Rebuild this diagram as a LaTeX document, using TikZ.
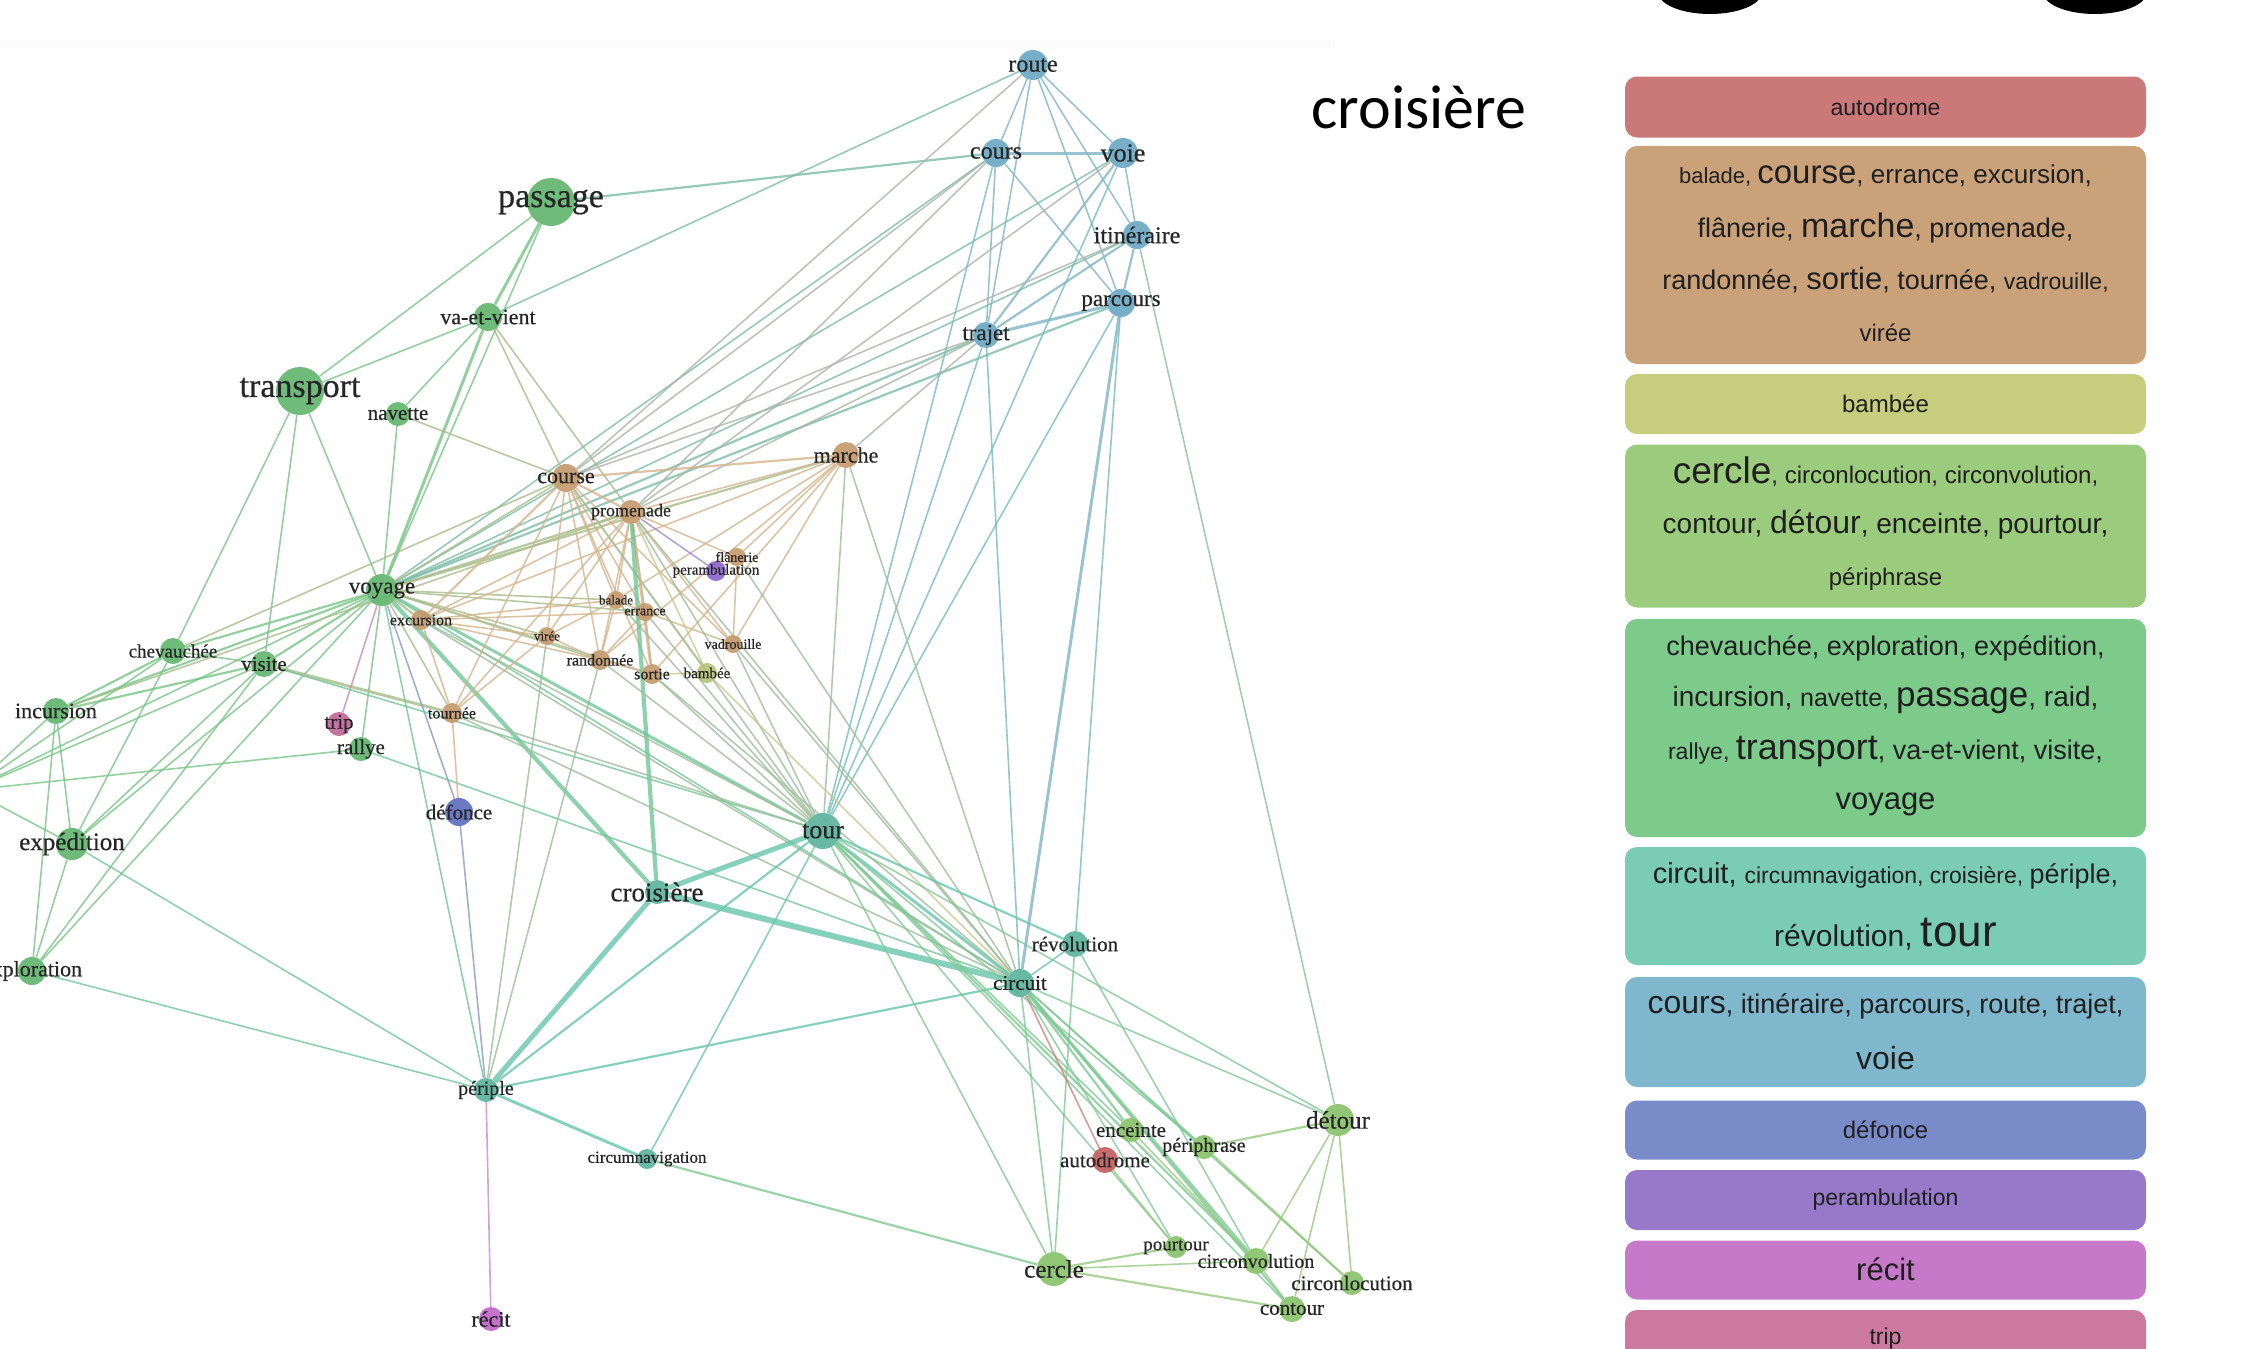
\documentclass[tikz,border=0pt]{standalone}
\usepackage{fontspec}
\setmainfont{Liberation Sans}
\newfontfamily\gfont[FakeBold=0.5]{Liberation Serif}
\newfontfamily\tfont{Carlito}
\pgfdeclarelayer{bg}
\pgfdeclarelayer{fg}
\pgfsetlayers{bg,main,fg}
\newcommand\fs[1]{\fontsize{#1}{#1}\selectfont}
% node colours
\definecolor{cG}{HTML}{62B56F}
\definecolor{cT}{HTML}{5DB39C}
\definecolor{cU}{HTML}{6AA8C2}
\definecolor{cB}{HTML}{C49A6E}
\definecolor{cL}{HTML}{8AC26C}
\definecolor{cR}{HTML}{C45E5E}
\definecolor{cD}{HTML}{5F6EC0}
\definecolor{cP}{HTML}{8A66CC}
\definecolor{cK}{HTML}{C066C8}
\definecolor{cM}{HTML}{C0689A}
\definecolor{cY}{HTML}{B6C27A}
% edge colours
\definecolor{eG}{HTML}{78C486}
\definecolor{eB}{HTML}{D3B48C}
\definecolor{eT}{HTML}{68C6AA}
\definecolor{eU}{HTML}{80B4C6}
\definecolor{eL}{HTML}{96CA7E}
\colorlet{eGB}{eG!50!eB}
\colorlet{eGU}{eG!50!eU}
\colorlet{eBU}{eB!50!eU}
\colorlet{eTU}{eT!50!eU}
\colorlet{eLU}{eL!50!eU}
\colorlet{eGT}{eG!50!eT}
\colorlet{eBT}{eB!50!eT}
\colorlet{eLT}{eL!50!eT}
\definecolor{eM}{HTML}{C889B0}
\definecolor{eD}{HTML}{8A98C8}
\definecolor{eP}{HTML}{A08AD6}
\definecolor{eR}{HTML}{D08080}
\definecolor{eK}{HTML}{C68AD0}
\definecolor{eY}{HTML}{C8C890}
% legend colours
\definecolor{lA}{HTML}{CB7878}
\definecolor{lB}{HTML}{C9A27A}
\definecolor{lY}{HTML}{C6CD7C}
\definecolor{lL}{HTML}{9BCB7C}
\definecolor{lG}{HTML}{7DCB8B}
\definecolor{lT}{HTML}{7ACDB3}
\definecolor{lU}{HTML}{7FB8CD}
\definecolor{lD}{HTML}{7A8BC9}
\definecolor{lP}{HTML}{9679C8}
\definecolor{lK}{HTML}{C579C8}
\definecolor{lM}{HTML}{CB799F}
\tikzset{
  gnode/.style={circle,inner sep=0pt,draw=none,opacity=.92},
  glab/.style={inner sep=0pt,text=black!85},
  edge/.style={line width=1.6pt,opacity=.8},
  w2/.style={line width=2.2pt},
  w3/.style={line width=3pt},
  w4/.style={line width=4.2pt},
  w5/.style={line width=5pt},
  w6/.style={line width=6pt},
  lbox/.style={rectangle,rounded corners=12pt,minimum width=521pt,inner sep=0pt,draw=none},
  ltxt/.style={inner sep=0pt,text=black!88}
}
\newcommand\GN[7]{%
  \node[gnode,fill=#5,minimum size=#4pt] (#1) at (#2,#3) {};
  \begin{pgfonlayer}{fg}\node[glab,font={\gfont\fs{#6}}] (#1-l) at (#2,#3) {#7};\end{pgfonlayer}}
\newcommand\E[3][]{\draw[edge,#1] (#2) -- (#3);}
\begin{document}
\begin{tikzpicture}[x=1pt,y=-1pt]
\useasboundingbox (0,0) rectangle (2263,1349);
\fill[black!1.5] (0,40) rectangle (1335,48);
% black shapes cut at top
\fill[black] (1710,-8) ellipse [x radius=52pt, y radius=22pt];
\fill[black] (2095,-8) ellipse [x radius=52pt, y radius=22pt];
% title
\node[font={\tfont\fs{62}},inner sep=0pt] (title) at (1419,107) {croisière};
% ---------------- graph nodes
\coordinate (raid) at (-30,790);
\GN{route}{1033}{65}{30}{cU}{24}{route}
\GN{cours}{996}{153}{28}{cU}{24}{cours}
\GN{voie}{1123}{153}{30}{cU}{26}{voie}
\GN{itineraire}{1137}{235}{28}{cU}{24}{itinéraire}
\GN{parcours}{1121}{303}{28}{cU}{23}{parcours}
\GN{trajet}{986}{335}{26}{cU}{23}{trajet}
\GN{passage}{551}{202}{48}{cG}{34}{passage}
\GN{vaetvient}{488}{317}{28}{cG}{22}{va-et-vient}
\GN{transport}{300}{391}{48}{cG}{34}{transport}
\GN{navette}{398}{414}{24}{cG}{21}{navette}
\GN{course}{566}{478}{28}{cB}{22}{course}
\GN{marche}{846}{455}{26}{cB}{22}{marche}
\GN{promenade}{631}{512}{24}{cB}{18}{promenade}
\GN{flanerie}{737}{557}{18}{cB}{14}{flânerie}
\GN{perambulation}{716}{571}{20}{cP}{15}{perambulation}
\GN{voyage}{382}{590}{32}{cG}{23}{voyage}
\GN{excursion}{421}{620}{20}{cB}{16}{excursion}
\GN{balade}{616}{600}{18}{cB}{13}{balade}
\GN{errance}{645}{612}{18}{cB}{14}{errance}
\GN{viree}{547}{636}{18}{cB}{13}{virée}
\GN{randonnee}{600}{660}{20}{cB}{16}{randonnée}
\GN{sortie}{652}{674}{20}{cB}{16}{sortie}
\GN{bambee}{707}{673}{20}{cY}{15}{bambée}
\GN{vadrouille}{733}{644}{18}{cB}{14}{vadrouille}
\GN{tournee}{452}{713}{20}{cB}{16}{tournée}
\GN{trip}{339}{724}{24}{cM}{21}{trip}
\GN{rallye}{361}{749}{24}{cG}{21}{rallye}
\GN{chevauchee}{173}{651}{26}{cG}{19}{chevauchée}
\GN{visite}{264}{664}{26}{cG}{21}{visite}
\GN{incursion}{56}{711}{26}{cG}{22}{incursion}
\GN{expedition}{72}{844}{32}{cG}{25}{expédition}
\GN{exploration}{32}{971}{28}{cG}{22}{exploration}
\GN{defonce}{459}{812}{28}{cD}{21}{défonce}
\GN{tour}{823}{831}{36}{cT}{26}{tour}
\GN{croisiere}{657}{892}{24}{cT}{27}{croisière}
\GN{revolution}{1075}{944}{26}{cT}{21}{révolution}
\GN{circuit}{1020}{983}{28}{cT}{21}{circuit}
\GN{periple}{486}{1090}{24}{cT}{20}{périple}
\GN{circumnav}{647}{1159}{20}{cT}{17}{circumnavigation}
\GN{recit}{491}{1319}{24}{cK}{22}{récit}
\GN{enceinte}{1131}{1130}{24}{cL}{21}{enceinte}
\GN{autodrome}{1105}{1160}{26}{cR}{21}{autodrome}
\GN{periphrase}{1204}{1147}{24}{cL}{20}{périphrase}
\GN{detour}{1338}{1120}{32}{cL}{25}{détour}
\GN{cercle}{1054}{1269}{34}{cL}{25}{cercle}
\GN{pourtour}{1176}{1247}{22}{cL}{19}{pourtour}
\GN{circonvolution}{1256}{1261}{26}{cL}{20}{circonvolution}
\GN{circonlocution}{1352}{1283}{24}{cL}{21}{circonlocution}
\GN{contour}{1292}{1309}{26}{cL}{21}{contour}
% ---------------- edges
\begin{pgfonlayer}{bg}
% blue
\E[eU]{route}{cours}\E[eU]{route}{voie}\E[eU]{route}{itineraire}\E[eU]{route}{parcours}
\E[eU]{route}{trajet}\E[eU,w3]{cours}{voie}\E[eU]{cours}{trajet}\E[eU]{cours}{parcours}
\E[eU]{voie}{itineraire}\E[eU,w2]{voie}{trajet}\E[eU,w2]{itineraire}{parcours}
\E[eU,w2]{itineraire}{trajet}\E[eU,w3]{parcours}{trajet}
\E[eGU]{route}{vaetvient}\E[eGU,w2]{cours}{passage}\E[eGU]{cours}{voyage}\E[eGU]{voie}{voyage}
\E[eGU]{itineraire}{voyage}\E[eGU,w2]{parcours}{voyage}\E[eGU,w2]{trajet}{voyage}
\E[eBU]{route}{course}\E[eBU]{cours}{course}\E[eBU]{cours}{promenade}\E[eBU]{voie}{promenade}
\E[eBU]{itineraire}{course}\E[eBU]{trajet}{course}\E[eBU]{trajet}{marche}\E[eBU]{trajet}{promenade}
\E[eTU]{cours}{tour}\E[eTU]{voie}{tour}\E[eTU]{parcours}{tour}\E[eU,w3]{parcours}{circuit}
\E[eTU]{parcours}{revolution}\E[eTU]{trajet}{tour}\E[eTU]{trajet}{circuit}
\E[eLU]{itineraire}{detour}
% green
\E[eG,w3]{passage}{vaetvient}\E[eG]{passage}{transport}\E[eG]{passage}{voyage}
\E[eG]{transport}{vaetvient}\E[eG]{transport}{voyage}\E[eG]{transport}{chevauchee}
\E[eG]{transport}{visite}\E[eG]{vaetvient}{navette}\E[eG,w3]{vaetvient}{voyage}
\E[eG]{navette}{voyage}\E[eG,w2]{voyage}{chevauchee}\E[eG,w2]{voyage}{visite}
\E[eG,w2]{voyage}{incursion}\E[eG]{voyage}{expedition}\E[eG]{voyage}{exploration}
\E[eG]{voyage}{rallye}\E[eG,w2]{chevauchee}{incursion}\E[eG]{chevauchee}{visite}
\E[eG]{chevauchee}{expedition}\E[eG,w2]{visite}{incursion}\E[eG]{visite}{expedition}
\E[eG]{visite}{exploration}\E[eG]{incursion}{expedition}\E[eG]{incursion}{exploration}
\E[eG]{expedition}{exploration}\E[eG]{raid}{voyage}\E[eG]{raid}{visite}\E[eG]{raid}{chevauchee}
\E[eG]{raid}{incursion}\E[eG]{raid}{rallye}\E[eG]{raid}{expedition}
\E[eGB]{vaetvient}{course}\E[eGB]{vaetvient}{promenade}\E[eGB]{navette}{course}
\E[eGB,w2]{voyage}{excursion}\E[eGB]{voyage}{tournee}\E[eGB]{voyage}{balade}
\E[eGB]{voyage}{errance}\E[eGB,w2]{voyage}{promenade}\E[eGB,w2]{voyage}{marche}
\E[eGB]{voyage}{course}\E[eGB]{voyage}{viree}\E[eGB]{voyage}{randonnee}\E[eGB]{voyage}{sortie}
\E[eGB,w3]{visite}{tournee}\E[eGB]{chevauchee}{course}\E[eGB]{incursion}{promenade}
\E[eM]{voyage}{trip}\E[eD]{voyage}{defonce}
\E[eGT,w3]{voyage}{tour}\E[eGT,w4]{voyage}{croisiere}\E[eGT]{voyage}{circuit}
\E[eGT]{voyage}{periple}\E[eGT]{visite}{tour}\E[eGT]{rallye}{circuit}
\E[eGT]{expedition}{periple}\E[eGT]{exploration}{periple}
\E[eD]{defonce}{periple}\E[eB]{defonce}{tournee}
% brown
\E[eB,w2]{course}{marche}\E[eB,w2]{course}{promenade}\E[eB]{course}{balade}\E[eB]{course}{errance}
\E[eB]{course}{viree}\E[eB]{course}{randonnee}\E[eB]{course}{sortie}\E[eB]{course}{tournee}
\E[eB,w2]{course}{excursion}\E[eB]{course}{vadrouille}\E[eB]{marche}{promenade}
\E[eB]{marche}{balade}\E[eB]{marche}{flanerie}\E[eB]{marche}{vadrouille}\E[eB]{marche}{randonnee}
\E[eB]{marche}{excursion}\E[eB]{marche}{sortie}\E[eB]{promenade}{balade}\E[eB]{promenade}{errance}
\E[eB]{promenade}{viree}\E[eB]{promenade}{randonnee}\E[eB,w3]{promenade}{sortie}
\E[eB]{promenade}{vadrouille}\E[eB]{promenade}{flanerie}\E[eB]{promenade}{excursion}
\E[eB]{promenade}{tournee}\E[eB]{balade}{errance}\E[eB]{balade}{viree}\E[eB]{balade}{randonnee}
\E[eB]{balade}{excursion}\E[eB]{errance}{randonnee}\E[eB]{errance}{sortie}\E[eB]{errance}{excursion}
\E[eB]{errance}{vadrouille}\E[eB]{viree}{randonnee}\E[eB]{viree}{excursion}\E[eB]{viree}{tournee}
\E[eB]{randonnee}{sortie}\E[eB]{randonnee}{excursion}\E[eB]{excursion}{tournee}
\E[eB]{vadrouille}{flanerie}\E[eY]{course}{bambee}\E[eY]{promenade}{bambee}\E[eY]{sortie}{bambee}
\E[eB]{flanerie}{perambulation}\E[eP]{promenade}{perambulation}
\E[eBT]{course}{tour}\E[eBT]{marche}{tour}\E[eBT]{marche}{circuit}\E[eBT]{promenade}{tour}
\E[eGT,w4]{promenade}{croisiere}\E[eBT]{promenade}{circuit}\E[eBT]{balade}{tour}
\E[eBT]{errance}{tour}\E[eBT]{randonnee}{tour}\E[eBT]{sortie}{tour}\E[eBT]{sortie}{circuit}
\E[eBT]{vadrouille}{tour}\E[eBT]{vadrouille}{circuit}\E[eBT]{excursion}{tour}
\E[eBT]{excursion}{circuit}\E[eBT]{tournee}{tour}\E[eBT]{tournee}{circuit}
\E[eBT]{viree}{periple}\E[eBT]{randonnee}{periple}\E[eY]{bambee}{circuit}\E[eBT]{flanerie}{circuit}
% teal
\E[eT,w5]{tour}{croisiere}\E[eT,w3]{tour}{circuit}\E[eT,w2]{tour}{revolution}
\E[eT,w2]{tour}{periple}\E[eT]{tour}{circumnav}\E[eT,w6]{croisiere}{circuit}
\E[eT,w5]{croisiere}{periple}\E[eT]{circuit}{revolution}\E[eT,w2]{circuit}{periple}
\E[eT,w3]{periple}{circumnav}
\E[eLT]{tour}{cercle}\E[eLT]{tour}{enceinte}\E[eLT]{tour}{pourtour}\E[eLT,w2]{tour}{circonvolution}
\E[eLT]{tour}{contour}\E[eLT]{tour}{detour}\E[eLT]{tour}{periphrase}\E[eLT,w2]{circuit}{enceinte}
\E[eLT,w3]{circuit}{circonvolution}\E[eLT,w2]{circuit}{contour}\E[eLT]{circuit}{cercle}
\E[eLT]{circuit}{pourtour}\E[eLT]{circuit}{periphrase}\E[eLT]{circuit}{detour}
\E[eLT]{circuit}{circonlocution}\E[eLT]{revolution}{cercle}\E[eLT]{revolution}{circonvolution}
\E[eLT,w2]{circumnav}{cercle}
\E[eR]{circuit}{autodrome}\E[eL]{autodrome}{pourtour}\E[eK]{periple}{recit}
% light green
\E[eL,w2]{detour}{periphrase}\E[eL]{detour}{circonlocution}\E[eL]{detour}{contour}
\E[eL]{detour}{circonvolution}\E[eL,w2]{cercle}{pourtour}\E[eL]{cercle}{circonvolution}
\E[eL,w2]{cercle}{contour}\E[eL]{circonvolution}{contour}\E[eL,w2]{circonlocution}{periphrase}
\E[eL]{enceinte}{circonvolution}
\end{pgfonlayer}
% ---------------- legend
\node[lbox,fill=lA,minimum height=61pt] (b1) at (1885.5,107) {};
\node[ltxt] (t1) at (1885.5,107) {\fs{23}autodrome};
\node[lbox,fill=lB,minimum height=218pt] (b2) at (1885.5,255) {};
\node[ltxt] (t2a) at (1885.5,176) {\fs{22}balade, \fs{33}course\fs{26}, errance, excursion,};
\node[ltxt] (t2b) at (1885.5,228) {\fs{27}flânerie, \fs{34}marche\fs{27}, promenade,};
\node[ltxt] (t2c) at (1885.5,280) {\fs{27}randonnée, \fs{31}sortie\fs{27}, tournée, \fs{23}vadrouille,};
\node[ltxt] (t2d) at (1885.5,333) {\fs{24}virée};
\node[lbox,fill=lY,minimum height=60pt] (b3) at (1885.5,404) {};
\node[ltxt] (t3) at (1885.5,404) {\fs{24}bambée};
\node[lbox,fill=lL,minimum height=163pt] (b4) at (1885.5,526) {};
\node[ltxt] (t4a) at (1885.5,472) {\fs{37}cercle\fs{24}, circonlocution, circonvolution,};
\node[ltxt] (t4b) at (1885.5,525) {\fs{28}contour, \fs{32}détour\fs{28}, enceinte, pourtour,};
\node[ltxt] (t4c) at (1885.5,579) {\fs{24}périphrase};
\node[lbox,fill=lG,minimum height=218pt] (b5) at (1885.5,728) {};
\node[ltxt] (t5a) at (1885.5,648) {\fs{27}chevauchée, exploration, expédition,};
\node[ltxt] (t5b) at (1885.5,700) {\fs{28}incursion, \fs{25}navette, \fs{35}passage\fs{28}, raid,};
\node[ltxt] (t5c) at (1885.5,752) {\fs{23}rallye, \fs{36}transport\fs{27}, va-et-vient, visite,};
\node[ltxt] (t5d) at (1885.5,804) {\fs{31}voyage};
\node[lbox,fill=lT,minimum height=118pt] (b6) at (1885.5,906) {};
\node[ltxt] (t6a) at (1885.5,876) {\fs{29}circuit, \fs{23}circumnavigation, croisière, \fs{27}périple,};
\node[ltxt] (t6b) at (1885.5,934) {\fs{30}révolution, \fs{44}tour};
\node[lbox,fill=lU,minimum height=110pt] (b7) at (1885.5,1032) {};
\node[ltxt] (t7a) at (1885.5,1006) {\fs{32}cours\fs{27}, itinéraire, parcours, route, trajet,};
\node[ltxt] (t7b) at (1885.5,1058) {\fs{32}voie};
\node[lbox,fill=lD,minimum height=59pt] (b8) at (1885.5,1130) {};
\node[ltxt] (t8) at (1885.5,1130) {\fs{24}défonce};
\node[lbox,fill=lP,minimum height=60pt] (b9) at (1885.5,1200) {};
\node[ltxt] (t9) at (1885.5,1200) {\fs{23}perambulation};
\node[lbox,fill=lK,minimum height=59pt] (b10) at (1885.5,1270) {};
\node[ltxt] (t10) at (1885.5,1269) {\fs{31}récit};
\node[lbox,fill=lM,minimum height=60pt] (b11) at (1885.5,1340) {};
\node[ltxt] (t11) at (1885.5,1339) {\fs{23}trip};
\end{tikzpicture}
\end{document}
